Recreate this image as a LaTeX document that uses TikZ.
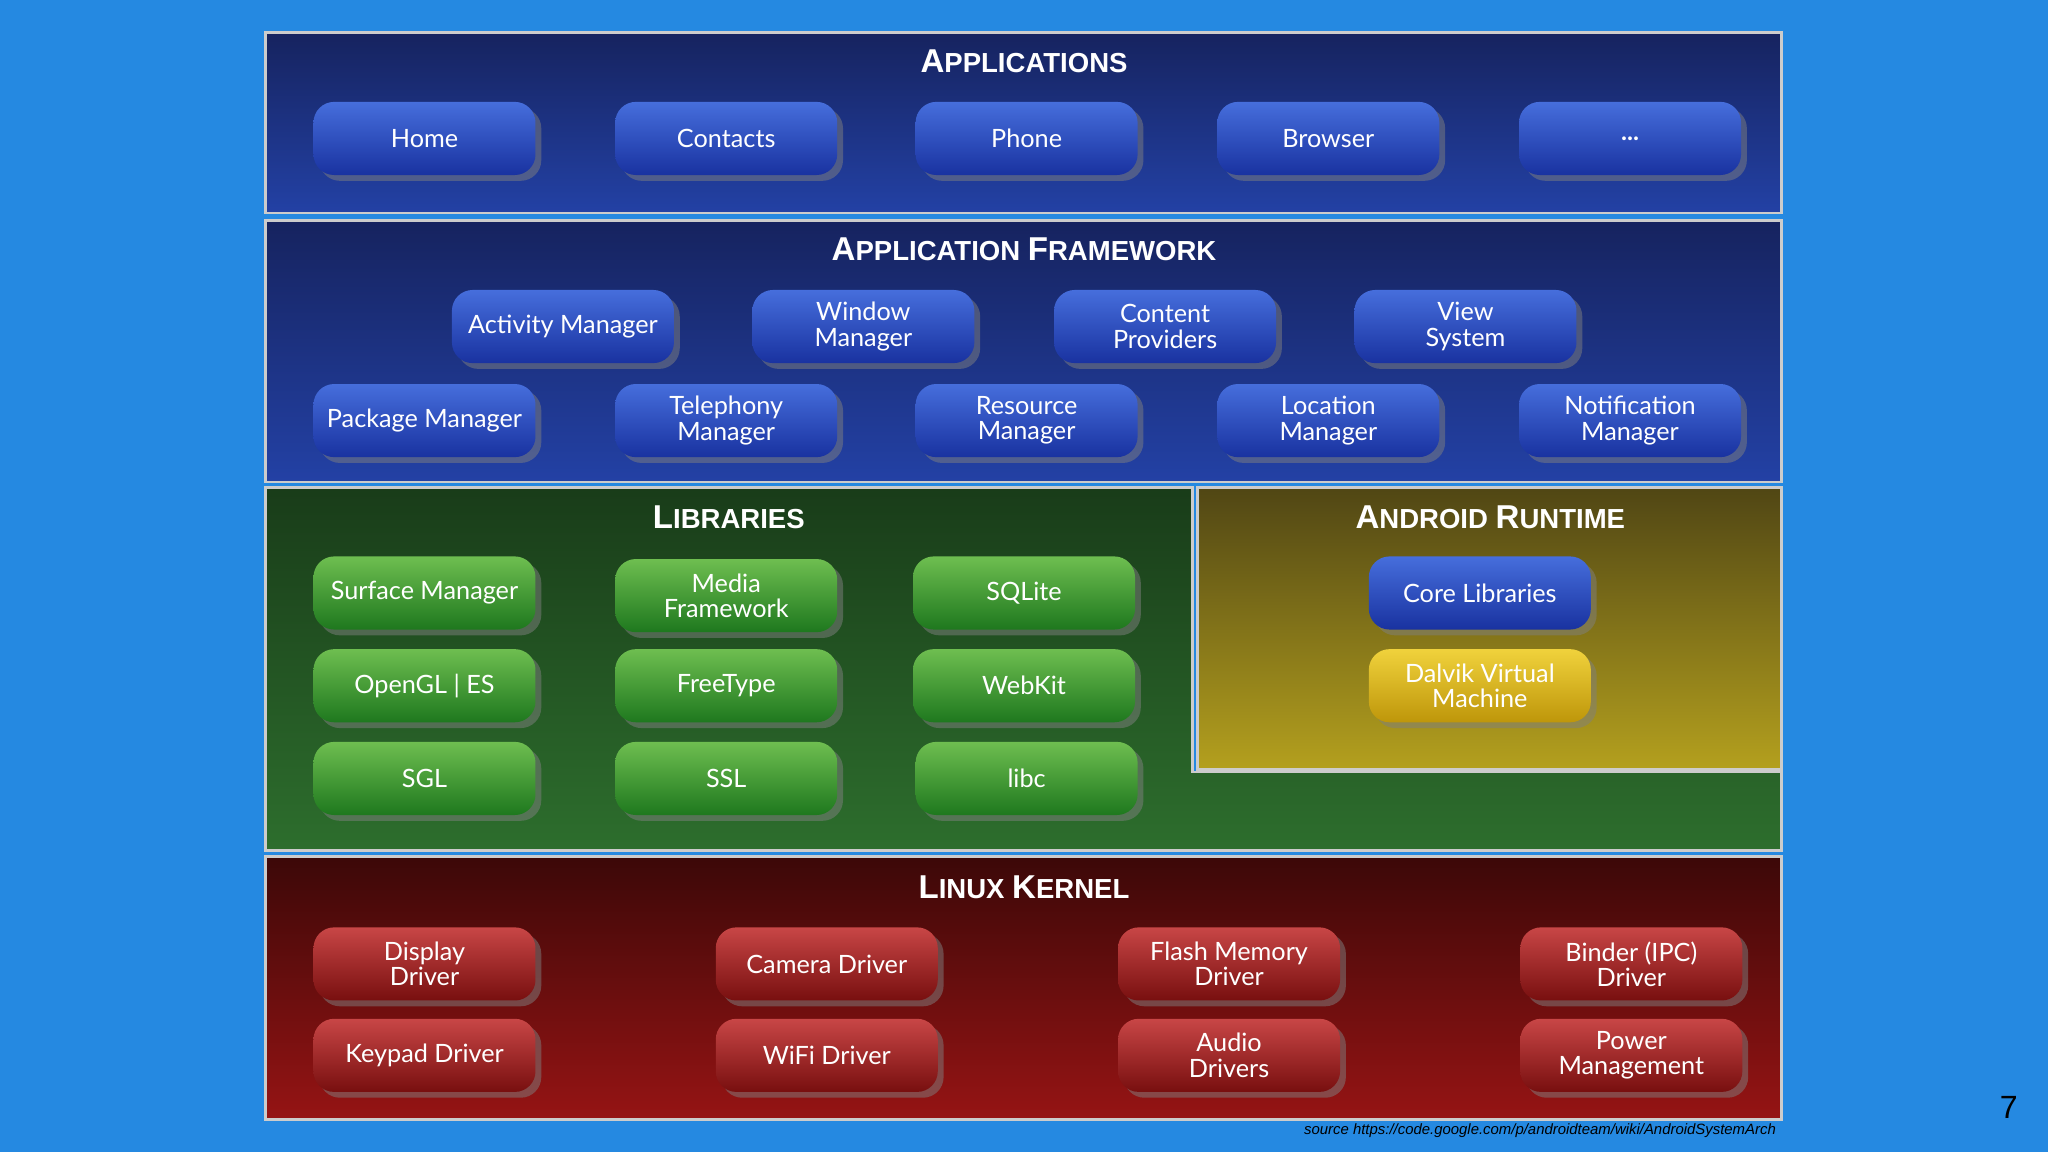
\documentclass[tikz,border=0pt]{standalone}
\usepackage{fontspec}
\setmainfont{Lato}
\newfontfamily\headfont{Liberation Sans}
\usetikzlibrary{shadows}
\definecolor{bgc}{RGB}{37,137,225}
\definecolor{blt}{RGB}{22,35,95}
\definecolor{blb}{RGB}{35,65,165}
\definecolor{glt}{RGB}{25,60,25}
\definecolor{glb}{RGB}{45,110,45}
\definecolor{ylt}{RGB}{80,70,20}
\definecolor{ylb}{RGB}{180,160,30}
\definecolor{rlt}{RGB}{60,8,8}
\definecolor{rlb}{RGB}{150,20,20}
\definecolor{bbt}{RGB}{70,110,220}
\definecolor{bbb}{RGB}{25,50,160}
\definecolor{gbt}{RGB}{110,190,80}
\definecolor{gbb}{RGB}{30,120,30}
\definecolor{rbt}{RGB}{200,70,70}
\definecolor{rbb}{RGB}{120,15,15}
\definecolor{ybt}{RGB}{240,210,60}
\definecolor{ybb}{RGB}{190,150,10}
\begin{document}
\begin{tikzpicture}[x=0.02cm,y=-0.02cm,
  layer/.style={draw=gray!40,line width=1.2pt},
  btn/.style={rounded corners=9pt,minimum width=3.4cm,minimum height=1.12cm,text=white,
    font=\fontsize{11}{11}\selectfont,align=center,inner sep=1pt,drop shadow={opacity=0.5}},
  bb/.style={btn,top color=bbt,bottom color=bbb},
  gb/.style={btn,top color=gbt,bottom color=gbb},
  rb/.style={btn,top color=rbt,bottom color=rbb},
  yb/.style={btn,top color=ybt,bottom color=ybb},
  head/.style={text=white,font=\headfont\bfseries}]
\fill[bgc] (0,0) rectangle (1568,882);
% layers
\shade[layer,top color=blt,bottom color=blb] (203,25) rectangle (1364,163);
\shade[layer,top color=blt,bottom color=blb] (203,169) rectangle (1364,369);
\shade[layer,top color=glt,bottom color=glb] (203,373) -- (913,373) -- (913,591) -- (1364,591) -- (1364,651) -- (203,651) -- cycle;
\shade[layer,top color=ylt,bottom color=ylb] (917,373) rectangle (1364,589);
\shade[layer,top color=rlt,bottom color=rlb] (203,656) rectangle (1364,857);
% headings
\node[head] (h1) at (784,47) {\Large A\large PPLICATIONS};
\node[head] (h2) at (784,191) {\Large A\large PPLICATION \Large F\large RAMEWORK};
\node[head] (h3) at (558,396) {\Large L\large IBRARIES};
\node[head] (h4) at (1141,396) {\Large A\large NDROID \Large R\large UNTIME};
\node[head] (h5) at (784,679) {\Large L\large INUX \Large K\large ERNEL};
% apps
\node[bb] (a1) at (325,106) {Home};
\node[bb] (a2) at (556,106) {Contacts};
\node[bb] (a3) at (786,106) {Phone};
\node[bb] (a4) at (1017,106) {Browser};
\node[bb] (a5) at (1248,106) {\textbf{...}};
% framework
\node[bb] (f1) at (431,250) {Activity Manager};
\node[bb] (f2) at (661,250) {Window\\Manager};
\node[bb] (f3) at (892,250) {Content\\Providers};
\node[bb] (f4) at (1122,250) {View\\System};
\node[bb] (f5) at (325,322) {Package Manager};
\node[bb] (f6) at (556,322) {Telephony\\Manager};
\node[bb] (f7) at (786,322) {Resource\\Manager};
\node[bb] (f8) at (1017,322) {Location\\Manager};
\node[bb] (f9) at (1248,322) {Notification\\Manager};
% libraries
\node[gb] (l1) at (325,454) {Surface Manager};
\node[gb] (l2) at (556,456) {Media\\Framework};
\node[gb] (l3) at (784,454) {SQLite};
\node[gb] (l4) at (325,525) {OpenGL | ES};
\node[gb] (l5) at (556,525) {FreeType};
\node[gb] (l6) at (784,525) {WebKit};
\node[gb] (l7) at (325,596) {SGL};
\node[gb] (l8) at (556,596) {SSL};
\node[gb] (l9) at (786,596) {libc};
% runtime
\node[bb] (r1) at (1133,454) {Core Libraries};
\node[yb] (r2) at (1133,525) {Dalvik Virtual\\Machine};
% kernel
\node[rb] (k1) at (325,738) {Display\\Driver};
\node[rb] (k2) at (633,738) {Camera Driver};
\node[rb] (k3) at (941,738) {Flash Memory\\Driver};
\node[rb] (k4) at (1249,738) {Binder (IPC)\\Driver};
\node[rb] (k5) at (325,808) {Keypad Driver};
\node[rb] (k6) at (633,808) {WiFi Driver};
\node[rb] (k7) at (941,808) {Audio\\Drivers};
\node[rb] (k8) at (1249,808) {Power\\Management};
% misc
\node[anchor=east,font=\headfont\itshape\fontsize{6.5}{7}\selectfont,inner sep=0] (src) at (1360,866) {source https://code.google.com/p/androidteam/wiki/AndroidSystemArch};
\node[font=\headfont\fontsize{14}{14}\selectfont] (pg) at (1538,848) {7};
\end{tikzpicture}
\end{document}
